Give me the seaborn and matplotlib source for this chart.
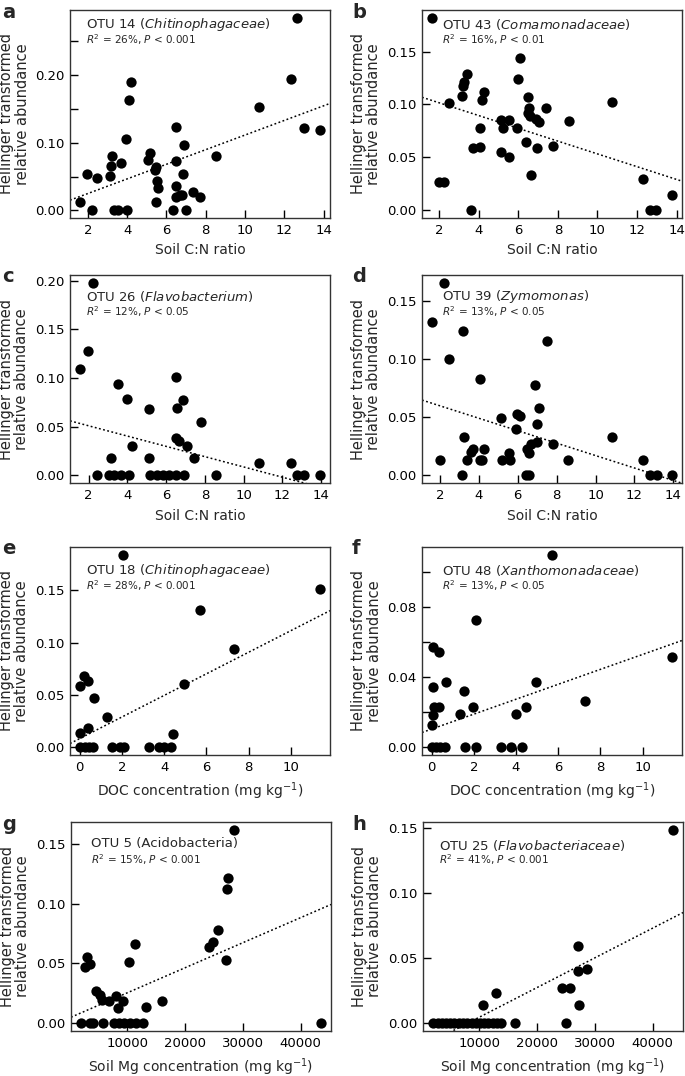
import numpy as np
import matplotlib
matplotlib.use("Agg")
import matplotlib.pyplot as plt
import seaborn as sns

# ---- data ----
# a: OTU 14 vs soil C:N
cn_a = [1.58, 1.97, 2.48, 2.2, 3.1, 3.19, 3.24, 3.32, 3.53, 3.7, 3.95, 3.99, 4.09, 4.21,
        5.06, 5.14, 5.51, 5.45, 5.4, 5.48, 5.57, 6.33, 6.5, 6.5, 6.47, 6.5, 6.67, 6.8,
        6.84, 6.87, 7.0, 7.35, 7.72, 8.5, 10.7, 12.32, 12.66, 12.98, 13.83]
otu14 = [0.013, 0.053, 0.048, 0.0, 0.051, 0.066, 0.081, 0.0, 0.0, 0.070, 0.105, 0.0, 0.163, 0.190,
         0.075, 0.085, 0.044, 0.013, 0.060, 0.064, 0.033, 0.0, 0.124, 0.073, 0.036, 0.019, 0.023, 0.023,
         0.053, 0.097, 0.0, 0.027, 0.019, 0.080, 0.153, 0.195, 0.285, 0.122, 0.119]

# b: OTU 43 vs soil C:N
cn_b = [1.61, 2.0, 2.24, 2.51, 3.13, 3.18, 3.25, 3.38, 3.6, 3.72, 4.06, 4.06, 4.14, 4.26,
        5.1, 5.12, 5.2, 5.52, 5.54, 5.91, 5.96, 6.08, 6.38, 6.5, 6.55, 6.5, 6.59, 6.64,
        6.89, 6.92, 7.06, 7.4, 7.73, 8.54, 10.72, 12.29, 12.66, 12.96, 13.79]
otu43 = [0.182, 0.027, 0.027, 0.101, 0.108, 0.117, 0.121, 0.129, 0.0, 0.059, 0.060, 0.078, 0.104, 0.112,
         0.055, 0.085, 0.078, 0.085, 0.050, 0.078, 0.124, 0.144, 0.065, 0.107, 0.097, 0.092, 0.089, 0.033,
         0.086, 0.059, 0.083, 0.097, 0.061, 0.084, 0.102, 0.030, 0.0, 0.0, 0.014]

# c: OTU 26 vs soil C:N
cn_c = [1.54, 1.97, 2.21, 2.46, 3.17, 3.03, 3.29, 3.54, 3.66, 3.97, 4.11, 4.23, 5.14, 5.12,
        5.17, 5.52, 5.86, 6.17, 6.49, 6.55, 6.49, 6.68, 6.51, 6.85, 6.94, 7.06, 7.44, 7.78,
        8.6, 10.8, 12.43, 12.77, 13.1, 13.96]
otu26 = [0.109, 0.128, 0.198, 0.0, 0.018, 0.0, 0.0, 0.094, 0.0, 0.078, 0.0, 0.030, 0.068, 0.018,
         0.0, 0.0, 0.0, 0.0, 0.101, 0.069, 0.038, 0.035, 0.0, 0.077, 0.0, 0.030, 0.018, 0.055,
         0.0, 0.013, 0.013, 0.0, 0.0, 0.0]

# d: OTU 39 vs soil C:N
cn_d = [1.57, 2.0, 2.22, 2.48, 3.11, 3.2, 3.25, 3.37, 3.58, 3.68, 4.06, 4.06, 4.14, 4.26,
        5.12, 5.17, 5.55, 5.6, 5.91, 5.94, 6.11, 6.4, 6.5, 6.58, 6.6, 6.66, 6.89, 6.97,
        6.97, 7.1, 7.49, 7.83, 8.6, 10.83, 12.42, 12.8, 13.14, 13.95]
otu39 = [0.132, 0.0136, 0.166, 0.100, 0.0, 0.124, 0.033, 0.0136, 0.020, 0.023, 0.0136, 0.083, 0.0136, 0.023,
         0.049, 0.0136, 0.019, 0.0136, 0.040, 0.053, 0.051, 0.0, 0.023, 0.019, 0.0, 0.027, 0.078, 0.044,
         0.029, 0.058, 0.116, 0.027, 0.0136, 0.033, 0.0136, 0.0, 0.0, 0.0]

# e: OTU 18 vs DOC
doc_e = [0.0, 0.0, 0.03, 0.19, 0.4, 0.24, 0.4, 0.44, 0.63, 0.68, 1.31, 1.55, 1.93, 2.06,
         2.1, 3.29, 3.77, 3.99, 4.32, 4.43, 4.94, 5.7, 7.28, 11.39]
otu18 = [0.0138, 0.0, 0.059, 0.068, 0.063, 0.0, 0.0186, 0.0, 0.0, 0.047, 0.029, 0.0, 0.0, 0.184,
         0.0, 0.0, 0.0, 0.0, 0.0, 0.0128, 0.060, 0.131, 0.094, 0.151]

# f: OTU 48 vs DOC
doc_f = [0.0, 0.05, 0.05, 0.05, 0.0, 0.21, 0.13, 0.36, 0.41, 0.36, 0.65, 0.68, 1.35, 1.55,
         1.58, 1.95, 2.08, 2.08, 3.3, 3.77, 3.98, 4.29, 4.48, 4.96, 5.71, 7.26, 11.41]
otu48 = [0.0126, 0.0184, 0.0346, 0.0574, 0.0, 0.0, 0.023, 0.023, 0.0, 0.0545, 0.0, 0.0373, 0.0188, 0.032,
         0.0, 0.023, 0.0727, 0.0, 0.0, 0.0, 0.0188, 0.0, 0.023, 0.0373, 0.110, 0.0264, 0.0513]

# g: OTU 5 vs soil Mg
mg_g = [1968, 2714, 3000, 3574, 3574, 4148, 4550, 5296, 5580, 5870, 6844, 7705, 8164, 8565,
        8450, 9312, 9541, 10287, 10459, 11434, 11606, 12754, 13327, 16024, 24228, 24916,
        25777, 27039, 27211, 27383, 28531, 43562]
otu5 = [0.0, 0.0474, 0.0552, 0.0496, 0.0, 0.0, 0.0272, 0.0238, 0.0196, 0.0, 0.0188, 0.0, 0.023, 0.0,
        0.0126, 0.0188, 0.0, 0.0516, 0.0, 0.0664, 0.0, 0.0, 0.0132, 0.0188, 0.0636, 0.0678,
        0.0782, 0.053, 0.1119, 0.1217, 0.1618, 0.0]

# h: OTU 25 vs soil Mg
mg_h = [1963, 2812, 3548, 4227, 4906, 5642, 6491, 7170, 7906, 8755, 9434, 10170, 10906, 11585,
        12434, 13170, 13849, 10736, 12887, 16113, 24320, 24943, 25735, 27150, 27150, 27320,
        28565, 43564]
otu25 = [0.0, 0.0, 0.0, 0.0, 0.0, 0.0, 0.0, 0.0, 0.0, 0.0, 0.0, 0.0, 0.0, 0.0,
         0.0, 0.0, 0.0, 0.0137, 0.0235, 0.0, 0.0271, 0.0, 0.0271, 0.0596, 0.040, 0.0137,
         0.0421, 0.149]

# fitted lines (intercept, slope)
fit_a = (0.0032, 0.01082)
fit_b = (0.1136, -0.00603)
fit_c = (0.0615, -0.00529)
fit_d = (0.0706, -0.00536)
fit_e = (0.0083, 0.01032)
fit_f = (0.0104, 0.004264)
fit_g = (0.00442, 2.098e-6)
fit_h = (-0.0183, 2.289e-6)

titles = ["OTU 14 ($\\mathit{Chitinophagaceae}$)", "OTU 43 ($\\mathit{Comamonadaceae}$)",
          "OTU 26 ($\\mathit{Flavobacterium}$)", "OTU 39 ($\\mathit{Zymomonas}$)",
          "OTU 18 ($\\mathit{Chitinophagaceae}$)", "OTU 48 ($\\mathit{Xanthomonadaceae}$)",
          "OTU 5 (Acidobacteria)", "OTU 25 ($\\mathit{Flavobacteriaceae}$)"]
stats = ["$R^2$ = 26%, $P$ < 0.001", "$R^2$ = 16%, $P$ < 0.01",
         "$R^2$ = 12%, $P$ < 0.05", "$R^2$ = 13%, $P$ < 0.05",
         "$R^2$ = 28%, $P$ < 0.001", "$R^2$ = 13%, $P$ < 0.05",
         "$R^2$ = 15%, $P$ < 0.001", "$R^2$ = 41%, $P$ < 0.001"]

xlab_cn = "Soil C:N ratio"
xlab_doc = "DOC concentration (mg kg$^{-1}$)"
xlab_mg = "Soil Mg concentration (mg kg$^{-1}$)"

cn_ticks = [2, 4, 6, 8, 10, 12, 14]
doc_ticks = [0, 2, 4, 6, 8, 10]
mg_ticks = [10000, 20000, 30000, 40000]
y05 = [0.0, 0.05, 0.10, 0.15]

panels = [
    ("a", cn_a, otu14, fit_a, xlab_cn, cn_ticks, [0, 0.05, 0.10, 0.15, 0.20, 0.25], [0, 2, 4]),
    ("b", cn_b, otu43, fit_b, xlab_cn, cn_ticks, y05, None),
    ("c", cn_c, otu26, fit_c, xlab_cn, cn_ticks, [0, 0.05, 0.10, 0.15, 0.20], None),
    ("d", cn_d, otu39, fit_d, xlab_cn, cn_ticks, y05, None),
    ("e", doc_e, otu18, fit_e, xlab_doc, doc_ticks, y05, None),
    ("f", doc_f, otu48, fit_f, xlab_doc, doc_ticks, [0, 0.02, 0.04, 0.06, 0.08, 0.10], [0, 2, 4]),
    ("g", mg_g, otu5, fit_g, xlab_mg, mg_ticks, y05, None),
    ("h", mg_h, otu25, fit_h, xlab_mg, mg_ticks, y05, None),
]

# layout in pixels: (left, top) of each box, box size 260 x ~208
W, H = 685, 1076
boxes = [(70, 10), (422, 10), (70, 275), (422, 275), (70, 547), (422, 547), (71, 822), (423, 822)]
text_pos = [(0.062, 0.930, 0.858), (0.076, 0.930, 0.858), (0.062, 0.898, 0.825), (0.076, 0.898, 0.825),
            (0.062, 0.887, 0.814), (0.076, 0.887, 0.814), (0.076, 0.895, 0.821), (0.063, 0.887, 0.818)]

sns.set_style("ticks")
plt.rcParams["font.family"] = ["DejaVu Sans"]
plt.rcParams["mathtext.fontset"] = "dejavusans"

fig = plt.figure(figsize=(W / 100, H / 100), dpi=100)

for i, (letter, xs, ys, fit, xlab, xt, yt, lab_idx) in enumerate(panels):
    left, top = boxes[i]
    bh = 208 if i < 6 else 209
    ax = fig.add_axes([left / W, 1 - (top + bh) / H, 260 / W, bh / H])
    sns.scatterplot(x=xs, y=ys, ax=ax, color="black", s=55, linewidth=0, zorder=3)

    # R-style axis limits: data range +/- 4%
    x0, x1 = min(xs), max(xs)
    y0, y1 = min(ys), max(ys)
    dx, dy = 0.04 * (x1 - x0), 0.04 * (y1 - y0)
    ax.set_xlim(x0 - dx, x1 + dx)
    ax.set_ylim(y0 - dy, y1 + dy)

    lx = np.array([x0 - dx, x1 + dx])
    ax.plot(lx, fit[0] + fit[1] * lx, ls=(0, (1.2, 1.6)), color="black", lw=1.1, zorder=2)

    ax.set_xticks(xt)
    ax.set_xticklabels([str(t) for t in xt])
    ax.set_yticks(yt)
    ylabels = ["%.2f" % t for t in yt]
    if lab_idx is not None:
        ylabels = [s if k in lab_idx else "" for k, s in enumerate(ylabels)]
    ax.set_yticklabels(ylabels)
    ax.tick_params(direction="in", length=6, width=1, labelsize=9.5, colors="black", pad=4)
    for sp in ax.spines.values():
        sp.set_visible(True)
        sp.set_linewidth(1)
        sp.set_color("#333333")

    ax.set_xlabel(xlab, fontsize=10, labelpad=5)
    ax.set_ylabel("Hellinger transformed\nrelative abundance", fontsize=10.5, labelpad=4, linespacing=1.05)

    tx, ty1, ty2 = text_pos[i]
    ax.text(tx, ty1, titles[i], transform=ax.transAxes, fontsize=9.5, va="center", ha="left")
    ax.text(tx, ty2, stats[i], transform=ax.transAxes, fontsize=7.5, va="center", ha="left")

    lx_px = 2 if i % 2 == 0 else 352
    fig.text(lx_px / W, 1 - (top + 2) / H, letter, fontsize=14, fontweight="bold", va="center", ha="left")

plt.savefig("out.png", dpi=100)
